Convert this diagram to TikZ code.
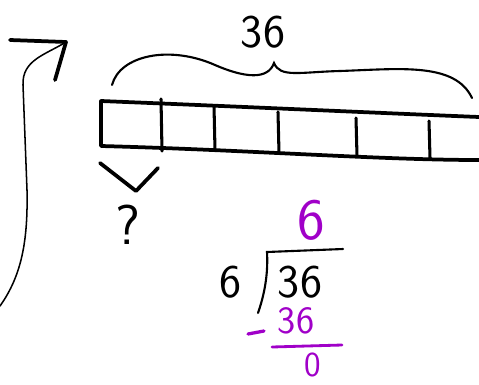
\documentclass[tikz,border=0pt]{standalone}
\usepackage{tikz}
\usetikzlibrary{positioning}
\usetikzlibrary{calc}
\definecolor{purple}{RGB}{160,0,200}

\begin{document}
\begin{tikzpicture}[
    x=0.03cm, y=-0.03cm,
    pen/.style={line width=3.2pt, line cap=round, line join=round},
    thinpen/.style={line width=1.3pt, line cap=round},
    digits/.style={font=\sffamily\fontsize{40}{40}\selectfont, inner sep=0pt},
    ink/.style={purple}
]
    \useasboundingbox (0,0) rectangle (479,384);

    % curved arrow on the left
    \coordinate (tail) at (0,306);
    \coordinate (tip) at (66,42);
    \coordinate (bar) at (10,40);
    \coordinate (barb) at (55,80);
    \draw[thinpen] (tail) .. controls (22,275) and (28,240) .. (27,190)
        -- (23,85) .. controls (22,60) and (45,55) .. (tip);
    \draw[pen] (bar) -- (tip) -- (barb);

    % the bar in six parts
    \coordinate (tl) at (101,101);
    \coordinate (bl) at (101,146);
    \draw[pen] (479,117) .. controls (380,113) and (250,107) .. (tl) -- (bl)
        .. controls (250,150) and (380,160) .. (479,160);
    \foreach \x/\a/\b in {161/99/151, 214/106/150, 278/112/153, 356/118/156, 429/121/158}
        \draw[pen, line width=2.6pt] (\x,\a) -- (\x+1,\b);

    % brace over the whole bar
    \draw[thinpen, line width=1.8pt] (112,85) .. controls (120,55) and (170,45) .. (215,65)
        .. controls (245,78) and (268,80) .. (274,63)
        .. controls (280,78) and (300,72) .. (340,71)
        .. controls (400,69) and (455,62) .. (472,98);
    \node[digits] (total) at (263,32) {36};

    % small brace under the first part
    \draw[pen] (100,163) -- (136,191) -- (158,168);
    \node[digits, font=\sffamily\fontsize{48}{48}\selectfont] (ask) at (128,225) {?};

    % long division
    \node[digits, ink, font=\sffamily\fontsize{50}{50}\selectfont] (quot) at (311,220) {6};
    \node[digits] (divisor) at (231,282) {6};
    \node[digits] (dividend) at (300,282) {36};
    \draw[thinpen, line width=1.8pt] (258,313) .. controls (266,290) and (268,270) .. (267,252) -- (343,249);
    \node[digits, ink, font=\sffamily\fontsize{33}{33}\selectfont] (sub) at (296,321) {36};
    \draw[pen, ink, line width=2.8pt] (248,334) -- (264,331);
    \draw[pen, ink, line width=2.4pt] (272,347) -- (342,345);
    \node[digits, ink, font=\sffamily\fontsize{30}{30}\selectfont] (rest) at (313,365) {0};
\end{tikzpicture}
\end{document}
